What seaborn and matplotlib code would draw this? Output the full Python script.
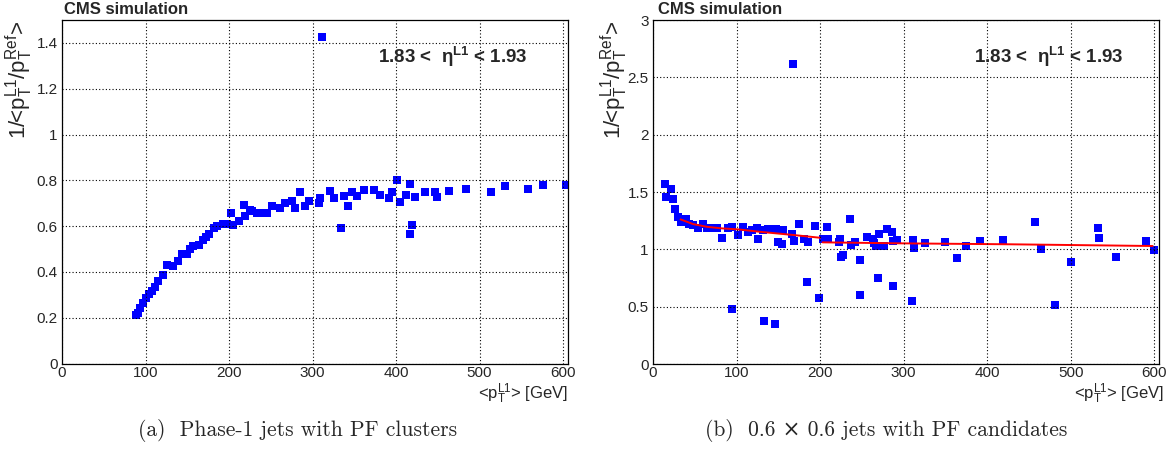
import seaborn as sns
import matplotlib.pyplot as plt
from matplotlib.ticker import MultipleLocator, FuncFormatter

# (a) Phase-1 jets with PF clusters
left_pt = [88.7, 91, 93.5, 97.5, 101, 104.7, 108, 111.5, 115.5, 121.5, 126.3, 133.5, 139.5,
           143.5, 149.5, 153, 156.7, 163.5, 168.7, 172, 175.5, 181.5, 186, 192.6, 198, 202,
           204.6, 211.5, 217.5, 219.6, 225.4, 227.4, 233.4, 235.4, 245.4, 251.4, 261.4, 267.4,
           275.4, 278.5, 285.4, 291.4, 295.4, 307.4, 309.4, 311.4, 321.3, 325.3, 333.8, 337.3,
           342.6, 347.4, 353.4, 361.3, 373.3, 381.3, 391.3, 395.3, 401.3, 404.5, 412.5, 416.5,
           417.3, 419.3, 423.3, 435.3, 447.2, 449.3, 463.2, 484.4, 513.2, 530.3, 558.3, 576.3, 603]
left_resp = [0.212, 0.222, 0.241, 0.266, 0.285, 0.302, 0.318, 0.333, 0.362, 0.387, 0.431, 0.427,
             0.446, 0.479, 0.479, 0.50, 0.511, 0.516, 0.540, 0.553, 0.567, 0.592, 0.60, 0.610,
             0.607, 0.657, 0.606, 0.621, 0.694, 0.646, 0.672, 0.664, 0.657, 0.657, 0.657, 0.686,
             0.679, 0.701, 0.708, 0.679, 0.749, 0.686, 0.708, 0.701, 0.723, 1.426, 0.752, 0.723,
             0.592, 0.730, 0.686, 0.748, 0.730, 0.756, 0.756, 0.737, 0.723, 0.748, 0.800, 0.704,
             0.737, 0.567, 0.786, 0.606, 0.727, 0.749, 0.749, 0.727, 0.752, 0.762, 0.749, 0.774,
             0.764, 0.781, 0.778]

# (b) 0.6x0.6 jets with PF candidates
right_pt = [14.4, 15.6, 21.2, 23.6, 26.3, 30.3, 33.1, 39.5, 43.4, 48.2, 54.2, 60.2, 64.2, 72.1,
            76.2, 82.9, 90.1, 94.1, 94.9, 101.3, 107.3, 114, 119, 124.8, 125.2, 131.9, 132.8,
            137.9, 146, 147.1, 149.9, 154, 155.9, 166, 167.8, 168.7, 175, 180.6, 184.6, 185.8,
            193.8, 198.9, 203, 207.8, 209.7, 222.9, 223.7, 224.5, 226.9, 235.6, 236.8, 241.6,
            247.6, 247.6, 256.3, 263.5, 264.7, 266.7, 269.5, 270.7, 276.3, 279.5, 285.5, 286.7,
            287.5, 291.5, 309.4, 311.4, 312.2, 325.4, 349.3, 363.3, 374.4, 391.1, 419, 456.9,
            464.9, 480.9, 500, 532.7, 533.5, 553.8, 590.5, 599.3]
right_resp = [1.567, 1.453, 1.523, 1.439, 1.349, 1.284, 1.235, 1.261, 1.221, 1.212, 1.183, 1.221,
              1.183, 1.188, 1.183, 1.096, 1.183, 1.198, 0.48, 1.125, 1.192, 1.153, 1.165, 1.183,
              1.087, 1.168, 0.375, 1.177, 0.349, 1.177, 1.066, 1.046, 1.168, 1.133, 2.615, 1.075,
              1.218, 1.087, 0.715, 1.061, 1.206, 0.575, 1.090, 1.192, 1.087, 1.061, 1.090, 0.935,
              0.950, 1.262, 1.037, 1.061, 0.909, 0.602, 1.110, 1.090, 1.052, 1.029, 0.747, 1.131,
              1.031, 1.174, 1.148, 0.680, 1.075, 1.081, 0.552, 1.081, 1.014, 1.052, 1.066, 0.927,
              1.031, 1.075, 1.081, 1.235, 1.000, 0.514, 0.887, 1.188, 1.101, 0.935, 1.072, 0.994]

# fitted correction curve (two pieces)
fit_lo_pt = [33, 48, 65, 82, 102, 128, 168, 200]
fit_lo_resp = [1.261, 1.22, 1.196, 1.183, 1.174, 1.153, 1.125, 1.101]
fit_hi_pt = [203, 300, 427, 598]
fit_hi_resp = [1.061, 1.052, 1.044, 1.029]

sns.set_style('white')
plt.rcParams['font.family'] = ['Liberation Sans', 'DejaVu Sans']
plt.rcParams['mathtext.fontset'] = 'custom'
plt.rcParams['mathtext.rm'] = 'Liberation Sans'
plt.rcParams['mathtext.it'] = 'Liberation Sans:italic'
plt.rcParams['mathtext.bf'] = 'Liberation Sans:bold'

W, H = 1175, 451
fig = plt.figure(figsize=(W / 100, H / 100), dpi=100)
ax1 = fig.add_axes([62 / W, 1 - 363.5 / H, (567.7 - 62) / W, (363.5 - 20) / H])
ax2 = fig.add_axes([653 / W, 1 - 364 / H, (1159 - 653) / W, (364 - 20) / H])

sns.scatterplot(x=left_pt, y=left_resp, ax=ax1, marker='s', s=26, color='#0000ff', linewidth=0)
sns.scatterplot(x=right_pt, y=right_resp, ax=ax2, marker='s', s=26, color='#0000ff', linewidth=0)
sns.lineplot(x=fit_lo_pt, y=fit_lo_resp, ax=ax2, color='red', linewidth=1.4, sort=False, estimator=None)
sns.lineplot(x=fit_hi_pt, y=fit_hi_resp, ax=ax2, color='red', linewidth=1.4, sort=False, estimator=None)

fmt = FuncFormatter(lambda v, p: f'{v:g}')
for ax, ymax, ymaj, ymin in [(ax1, 1.5, 0.2, 0.05), (ax2, 3.0, 0.5, 0.1)]:
    ax.set_xlim(0, 605.6)
    ax.set_ylim(0, ymax)
    ax.xaxis.set_major_locator(MultipleLocator(100))
    ax.xaxis.set_minor_locator(MultipleLocator(20))
    ax.yaxis.set_major_locator(MultipleLocator(ymaj))
    ax.yaxis.set_minor_locator(MultipleLocator(ymin))
    ax.xaxis.set_major_formatter(fmt)
    ax.yaxis.set_major_formatter(fmt)
    ax.tick_params(which='both', direction='in', labelsize=11, color='black', width=0.8)
    ax.tick_params(axis='x', which='major', length=6, pad=1.5)
    ax.tick_params(axis='x', which='minor', length=3.5)
    ax.tick_params(axis='y', which='major', length=9, pad=3)
    ax.tick_params(axis='y', which='minor', length=5)
    ax.grid(True, which='major', color='black', linestyle=(0, (1, 2)), linewidth=0.8)
    ax.set_axisbelow(False)
    for sp in ax.spines.values():
        sp.set_color('black')
        sp.set_linewidth(0.9)
    ax.set_xlabel('')
    ax.set_ylabel('')

ylab = r'1/<$\mathrm{p}_{\mathrm{T}}^{\mathrm{L1}}$/$\mathrm{p}_{\mathrm{T}}^{\mathrm{Ref}}$>'
xlab = r'<$\mathrm{p}_{\mathrm{T}}^{\mathrm{L1}}$> [GeV]'
eta = r'1.83 <  η$^{\mathbf{L1}}$ < 1.93'

for x0, xr, xt in [(64, 568, 19), (658, 1164, 614)]:
    fig.text(x0 / W, 1 - 10 / H, 'CMS simulation', fontsize=12, fontweight='bold', ha='left', va='center')
    fig.text((xr - 40) / W, 1 - 57 / H, eta, fontsize=13.5, fontweight='bold', ha='right', va='center')
    fig.text(xt / W, 1 - 21 / H, ylab, fontsize=16, rotation=90, ha='center', va='top')
    fig.text(xr / W, 1 - 394 / H, xlab, fontsize=12, ha='right', va='center')

cap_font = ['cmr10', 'DejaVu Serif']
fig.text(298 / W, 1 - 431 / H, '(a)  Phase-1 jets with PF clusters', fontsize=15.5,
         family=cap_font, ha='center', va='center')
fig.text(886 / W, 1 - 431 / H, '(b)  0.6 × 0.6 jets with PF candidates', fontsize=15.5,
         family=cap_font, ha='center', va='center')

fig.savefig('out.png', dpi=100)
